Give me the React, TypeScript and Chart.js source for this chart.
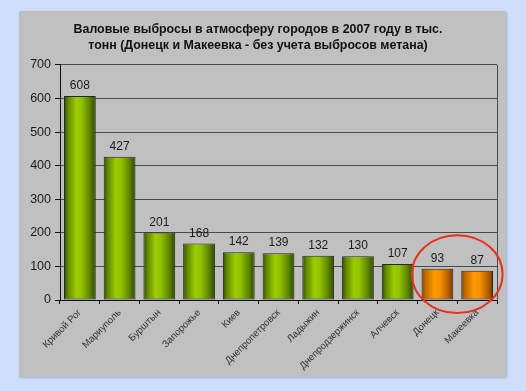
import React, { useEffect, useRef } from "react";
import { Chart, registerables } from "chart.js";

Chart.register(...registerables);

const titleLines = [
  "Валовые выбросы в атмосферу городов в 2007 году в тыс.",
  "тонн (Донецк и Макеевка - без учета выбросов метана)",
];

const cities = [
  "Кривой Рог",
  "Мариуполь",
  "Бурштын",
  "Запорожье",
  "Киев",
  "Днепропетровск",
  "Ладыжин",
  "Днепродзержинск",
  "Алчевск",
  "Донецк",
  "Макеевка",
];

const emissions = [608, 427, 201, 168, 142, 139, 132, 130, 107, 93, 87];

const highlighted = [9, 10];

const yMin = 0;
const yMax = 700;
const yStep = 100;

const FONT = "Arial, 'Liberation Sans', sans-serif";

const greenStops: [number, string][] = [
  [0, "#324a00"],
  [0.12, "#5f8600"],
  [0.38, "#9ccc00"],
  [0.55, "#92c200"],
  [0.82, "#5a8200"],
  [1, "#2f4600"],
];
const orangeStops: [number, string][] = [
  [0, "#7a3c00"],
  [0.12, "#c06a00"],
  [0.4, "#ff9a00"],
  [0.58, "#f79200"],
  [0.84, "#b56000"],
  [1, "#703800"],
];

export default function App() {
  const canvasRef = useRef<HTMLCanvasElement | null>(null);

  useEffect(() => {
    const canvas = canvasRef.current;
    if (!canvas) return;

    const barPct = 0.8;

    const barFill = (c: any) => {
      const chart = c.chart;
      const xs = chart.scales?.x;
      const stops = highlighted.includes(c.dataIndex) ? orangeStops : greenStops;
      if (!xs || !chart.chartArea) return stops[2][1];
      const center = xs.getPixelForValue(c.dataIndex);
      const catW = (xs.right - xs.left) / cities.length;
      const half = (catW * barPct) / 2;
      const g = chart.ctx.createLinearGradient(center - half, 0, center + half, 0);
      stops.forEach(([o, col]) => g.addColorStop(o, col));
      return g;
    };

    const labelPlugin = {
      id: "valueLabels",
      afterDatasetsDraw(chart: any) {
        const ctx = chart.ctx;
        const meta = chart.getDatasetMeta(0);
        ctx.save();
        ctx.font = `12px ${FONT}`;
        ctx.fillStyle = "#1a1a1a";
        ctx.textAlign = "center";
        ctx.textBaseline = "alphabetic";
        meta.data.forEach((el: any, i: number) => {
          ctx.fillText(String(emissions[i]), el.x, el.y - 7);
        });
        ctx.restore();
      },
    };

    const framePlugin = {
      id: "frame",
      afterDraw(chart: any) {
        const { ctx, chartArea, scales } = chart;
        ctx.save();
        ctx.strokeStyle = "#4a4a4a";
        ctx.lineWidth = 1;
        ctx.beginPath();
        const rx = Math.round(chartArea.right) + 0.5;
        ctx.moveTo(rx, chartArea.top);
        ctx.lineTo(rx, chartArea.bottom);
        ctx.stroke();

        // highlight ellipse around the selected cities
        const xs = scales.x;
        const ys = scales.y;
        const px = highlighted.map((i) => xs.getPixelForValue(i));
        const catW = (xs.right - xs.left) / cities.length;
        const cx = (px[0] + px[px.length - 1]) / 2;
        const rX = (px[px.length - 1] - px[0]) / 2 + catW * 0.64;
        const cy = ys.getPixelForValue(77);
        const rY = Math.abs(ys.getPixelForValue(0) - ys.getPixelForValue(116));
        ctx.strokeStyle = "#e8321e";
        ctx.lineWidth = 2;
        ctx.beginPath();
        ctx.ellipse(cx, cy, rX, rY, 0, 0, Math.PI * 2);
        ctx.stroke();
        ctx.restore();
      },
    };

    const chart = new Chart(canvas, {
      type: "bar",
      data: {
        labels: cities,
        datasets: [
          {
            data: emissions,
            backgroundColor: barFill,
            borderColor: "#262626",
            borderWidth: 1,
            borderSkipped: false,
            barPercentage: barPct,
            categoryPercentage: 1,
          },
        ],
      },
      options: {
        responsive: false,
        animation: false,
        devicePixelRatio: 1,
        layout: { padding: { top: 0, right: 9, left: 0, bottom: 0 } },
        plugins: {
          legend: { display: false },
          tooltip: { enabled: false },
          title: {
            display: true,
            text: titleLines,
            color: "#111",
            font: { family: FONT, size: 12.4, weight: "bold", lineHeight: 1.29 },
            padding: { top: 11, bottom: 11 },
          },
        },
        scales: {
          x: {
            grid: {
              display: true,
              offset: true,
              drawOnChartArea: false,
              drawTicks: true,
              tickLength: 4,
              tickColor: "#111",
            },
            border: { display: true, color: "#111", width: 1 },
            ticks: {
              minRotation: 45,
              maxRotation: 45,
              autoSkip: false,
              color: "#333",
              font: { family: FONT, size: 9.7 },
              padding: 3,
            },
            afterFit(scale: any) {
              scale.height = 77;
            },
          },
          y: {
            min: yMin,
            max: yMax,
            ticks: {
              stepSize: yStep,
              color: "#1a1a1a",
              font: { family: FONT, size: 12.5 },
              padding: 4,
            },
            grid: {
              color: "#4a4a4a",
              lineWidth: 1,
              tickLength: 5,
              tickColor: "#111",
            },
            border: { display: true, color: "#111", width: 1 },
            afterFit(scale: any) {
              scale.width = 41;
            },
          },
        },
      },
      plugins: [labelPlugin, framePlugin],
    });

    return () => chart.destroy();
  }, []);

  return (
    <div
      style={{
        position: "fixed",
        left: 0,
        top: 0,
        width: 526,
        height: 391,
        background: "#cfdefa",
        overflow: "hidden",
      }}
    >
      <div
        style={{
          position: "absolute",
          left: 19,
          top: 11,
          width: 487,
          height: 366,
          background: "#c0c0c0",
          boxShadow: "1px 1px 2px rgba(120,130,150,0.5)",
        }}
      >
        <canvas ref={canvasRef} width={487} height={366} style={{ display: "block" }} />
      </div>
    </div>
  );
}
